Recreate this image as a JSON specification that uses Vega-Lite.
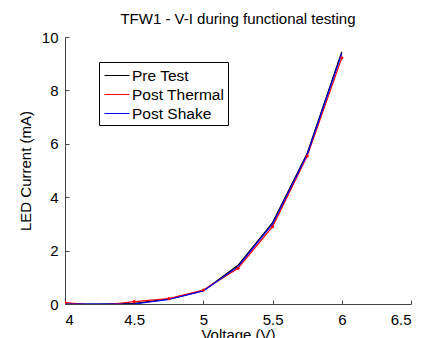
{
  "$schema": "https://vega.github.io/schema/vega-lite/v6.json",
  "width": 346,
  "height": 267,
  "autosize": {"type": "none"},
  "padding": {"left": 65, "top": 37, "right": 36, "bottom": 34},
  "background": "white",
  "config": {
    "font": "Liberation Sans",
    "view": {"stroke": null},
    "title": {"fontSize": 15, "fontWeight": "normal", "color": "black", "offset": 3, "anchor": "middle"},
    "axis": {
      "grid": false,
      "domainColor": "#444",
      "tickColor": "#444",
      "tickSize": -4,
      "labelFontSize": 15,
      "labelColor": "black",
      "titleFontSize": 15,
      "titleFontWeight": "normal",
      "titleColor": "black"
    },
    "legend": {
      "orient": "none",
      "legendX": 34,
      "legendY": 25,
      "strokeColor": "black",
      "fillColor": "white",
      "padding": 3,
      "labelFontSize": 15.5,
      "labelColor": "black",
      "symbolType": "M-0.8,0H1.7",
      "symbolSize": 400,
      "symbolStrokeWidth": 1,
      "rowPadding": 0,
      "labelOffset": 9,
      "title": null
    }
  },
  "title": "TFW1 - V-I during functional testing",
  "data": {
    "values": [
      {"series": "Pre Test", "v": 4.0, "i": 0.0},
      {"series": "Pre Test", "v": 4.25, "i": 0.0},
      {"series": "Pre Test", "v": 4.5, "i": 0.02},
      {"series": "Pre Test", "v": 4.75, "i": 0.18},
      {"series": "Pre Test", "v": 5.0, "i": 0.5},
      {"series": "Pre Test", "v": 5.25, "i": 1.45},
      {"series": "Pre Test", "v": 5.5, "i": 3.05},
      {"series": "Pre Test", "v": 5.75, "i": 5.65},
      {"series": "Pre Test", "v": 6.0, "i": 9.45},
      {"series": "Post Thermal", "v": 4.0, "i": 0.05},
      {"series": "Post Thermal", "v": 4.25, "i": -0.06},
      {"series": "Post Thermal", "v": 4.5, "i": 0.09},
      {"series": "Post Thermal", "v": 4.75, "i": 0.2},
      {"series": "Post Thermal", "v": 5.0, "i": 0.52},
      {"series": "Post Thermal", "v": 5.25, "i": 1.34},
      {"series": "Post Thermal", "v": 5.5, "i": 2.9},
      {"series": "Post Thermal", "v": 5.75, "i": 5.54},
      {"series": "Post Thermal", "v": 6.0, "i": 9.22},
      {"series": "Post Shake", "v": 4.0, "i": 0.0},
      {"series": "Post Shake", "v": 4.25, "i": 0.0},
      {"series": "Post Shake", "v": 4.5, "i": 0.0},
      {"series": "Post Shake", "v": 4.75, "i": 0.17},
      {"series": "Post Shake", "v": 5.0, "i": 0.49},
      {"series": "Post Shake", "v": 5.25, "i": 1.4},
      {"series": "Post Shake", "v": 5.5, "i": 3.0},
      {"series": "Post Shake", "v": 5.75, "i": 5.6},
      {"series": "Post Shake", "v": 6.0, "i": 9.38}
    ]
  },
  "layer": [
    {
      "mark": {"type": "line", "strokeWidth": 1.2, "clip": true},
      "encoding": {
        "x": {"field": "v", "type": "quantitative", "title": "Voltage (V)",
              "scale": {"domain": [4, 6.5], "nice": false, "zero": false},
              "axis": {"values": [4, 4.5, 5, 5.5, 6, 6.5], "format": "~g", "labelPadding": 12, "titlePadding": 0}},
        "y": {"field": "i", "type": "quantitative", "title": "LED Current (mA)",
              "scale": {"domain": [0, 10], "nice": false},
              "axis": {"values": [0, 2, 4, 6, 8, 10], "labelPadding": 11, "titlePadding": 8}},
        "color": {"field": "series", "type": "nominal",
                  "scale": {"domain": ["Pre Test", "Post Thermal", "Post Shake"], "range": ["black", "red", "blue"]}},
        "order": {"field": "v", "type": "quantitative"}
      }
    },
    {
      "transform": [{"filter": "datum.series === 'Post Thermal'"}],
      "mark": {"type": "point", "filled": true, "size": 10, "color": "red", "opacity": 1, "clip": true},
      "encoding": {
        "x": {"field": "v", "type": "quantitative"},
        "y": {"field": "i", "type": "quantitative"}
      }
    }
  ]
}
